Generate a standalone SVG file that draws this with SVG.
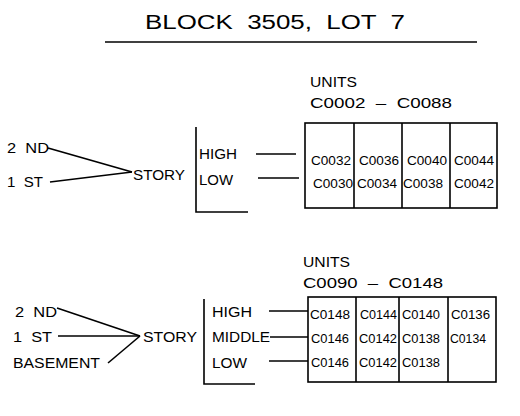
<svg xmlns="http://www.w3.org/2000/svg" width="520" height="416" viewBox="0 0 520 416">
<style>
text{font-family:"Liberation Sans",Arial,sans-serif;fill:#000;white-space:pre}
.t{font-size:20px}
.l{font-size:14px}
.u{font-size:15px}
.c{font-size:12px}
line,rect,polyline{stroke:#000;stroke-width:1.6;fill:none}
</style>
<rect width="520" height="416" fill="#fff" style="stroke:none"/>
<g id="title">
<text class="t" x="145" y="29" textLength="260" lengthAdjust="spacingAndGlyphs" xml:space="preserve">BLOCK  3505,  LOT  7</text>
<line x1="105" y1="42" x2="477" y2="42"/>
</g>
<g id="top-floors">
<text class="l" x="7" y="153" textLength="42" lengthAdjust="spacingAndGlyphs" xml:space="preserve">2  ND</text>
<text class="l" x="7" y="187" textLength="36" lengthAdjust="spacingAndGlyphs" xml:space="preserve">1  ST</text>
</g>
<g id="top-story">
<text class="l" x="133" y="180" textLength="52" lengthAdjust="spacingAndGlyphs">STORY</text>
</g>
<g id="top-levels">
<polyline points="196,127 196,212 248,212"/>
<text class="l" x="199" y="159" textLength="38" lengthAdjust="spacingAndGlyphs">HIGH</text>
<text class="l" x="199" y="185" textLength="34" lengthAdjust="spacingAndGlyphs">LOW</text>
</g>
<g id="top-units">
<text class="u" x="310" y="87" textLength="47" lengthAdjust="spacingAndGlyphs">UNITS</text>
<text class="u" x="310" y="108" textLength="142" lengthAdjust="spacingAndGlyphs" xml:space="preserve">C0002  –  C0088</text>
<rect x="305" y="123" width="192" height="85"/>
<line x1="354" y1="123" x2="354" y2="208"/>
<line x1="402" y1="123" x2="402" y2="208"/>
<line x1="450" y1="123" x2="450" y2="208"/>
<text class="c" x="311" y="165" textLength="40" lengthAdjust="spacingAndGlyphs">C0032</text>
<text class="c" x="359" y="165" textLength="40" lengthAdjust="spacingAndGlyphs">C0036</text>
<text class="c" x="407" y="165" textLength="40" lengthAdjust="spacingAndGlyphs">C0040</text>
<text class="c" x="454" y="165" textLength="40" lengthAdjust="spacingAndGlyphs">C0044</text>
<text class="c" x="313" y="188" textLength="40" lengthAdjust="spacingAndGlyphs">C0030</text>
<text class="c" x="357" y="188" textLength="40" lengthAdjust="spacingAndGlyphs">C0034</text>
<text class="c" x="403" y="188" textLength="40" lengthAdjust="spacingAndGlyphs">C0038</text>
<text class="c" x="454" y="188" textLength="40" lengthAdjust="spacingAndGlyphs">C0042</text>
</g>
<g id="bottom-floors">
<text class="l" x="15" y="317" textLength="42" lengthAdjust="spacingAndGlyphs" xml:space="preserve">2  ND</text>
<text class="l" x="13" y="342" textLength="39" lengthAdjust="spacingAndGlyphs" xml:space="preserve">1  ST</text>
<text class="l" x="13" y="368" textLength="87" lengthAdjust="spacingAndGlyphs">BASEMENT</text>
</g>
<g id="bottom-story">
<text class="l" x="143" y="342" textLength="54" lengthAdjust="spacingAndGlyphs">STORY</text>
</g>
<g id="bottom-levels">
<polyline points="204,299 204,384 255,384"/>
<text class="l" x="212" y="317" textLength="40" lengthAdjust="spacingAndGlyphs">HIGH</text>
<text class="l" x="212" y="342" textLength="58" lengthAdjust="spacingAndGlyphs">MIDDLE</text>
<text class="l" x="212" y="368" textLength="35" lengthAdjust="spacingAndGlyphs">LOW</text>
</g>
<g id="bottom-units">
<text class="u" x="303" y="267" textLength="47" lengthAdjust="spacingAndGlyphs">UNITS</text>
<text class="u" x="303" y="288" textLength="140" lengthAdjust="spacingAndGlyphs" xml:space="preserve">C0090  –  C0148</text>
<rect x="308" y="297" width="188" height="85"/>
<line x1="356" y1="297" x2="356" y2="382"/>
<line x1="399" y1="297" x2="399" y2="382"/>
<line x1="448" y1="297" x2="448" y2="382"/>
<text class="c" x="310" y="319" textLength="40" lengthAdjust="spacingAndGlyphs">C0148</text>
<text class="c" x="360" y="319" textLength="37" lengthAdjust="spacingAndGlyphs">C0144</text>
<text class="c" x="402" y="319" textLength="38" lengthAdjust="spacingAndGlyphs">C0140</text>
<text class="c" x="451" y="319" textLength="39" lengthAdjust="spacingAndGlyphs">C0136</text>
<text class="c" x="311" y="343" textLength="38" lengthAdjust="spacingAndGlyphs">C0146</text>
<text class="c" x="359" y="343" textLength="38" lengthAdjust="spacingAndGlyphs">C0142</text>
<text class="c" x="402" y="343" textLength="38" lengthAdjust="spacingAndGlyphs">C0138</text>
<text class="c" x="450" y="343" textLength="36" lengthAdjust="spacingAndGlyphs">C0134</text>
<text class="c" x="311" y="367" textLength="38" lengthAdjust="spacingAndGlyphs">C0146</text>
<text class="c" x="359" y="367" textLength="38" lengthAdjust="spacingAndGlyphs">C0142</text>
<text class="c" x="402" y="367" textLength="38" lengthAdjust="spacingAndGlyphs">C0138</text>
</g>
<g id="connectors">
<line x1="48" y1="148" x2="132" y2="172"/>
<line x1="50" y1="182" x2="132" y2="172"/>
<line x1="256" y1="154" x2="296" y2="154"/>
<line x1="258" y1="178" x2="299" y2="178"/>
<line x1="57" y1="308" x2="140" y2="336"/>
<line x1="58" y1="336" x2="140" y2="336"/>
<line x1="108" y1="363" x2="140" y2="336"/>
<line x1="269" y1="311" x2="308" y2="311"/>
<line x1="270" y1="337" x2="308" y2="337"/>
<line x1="269" y1="361" x2="308" y2="361"/>
</g>
</svg>
